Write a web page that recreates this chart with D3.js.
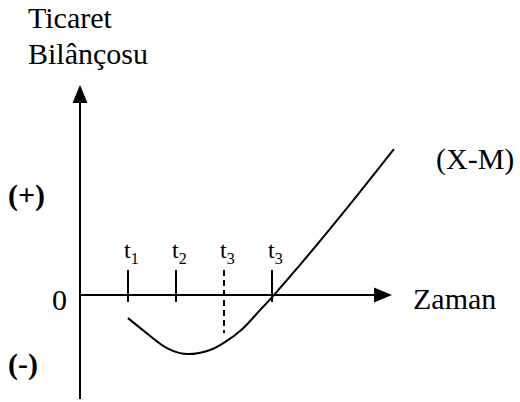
<!DOCTYPE html>
<html lang="tr">
<head>
<meta charset="UTF-8">
<title>Ticaret Bilançosu</title>
<script src="https://cdn.jsdelivr.net/npm/d3@7"></script>
<style>
    body { margin: 0; background: #fff; }
</style>
</head>
<body>
<div id="output"></div>
<script>

// time marks on the horizontal axis
var tickTimes = [1, 2, 3, 4];
var tickSubs = ["1", "2", "3", "3"];
var tickDashed = [false, false, true, false];

// (X-M) curve
var curveTimes = [1.0, 1.31, 1.81, 2.25, 2.71, 3.02, 3.40, 3.75, 4.04, 4.58, 5.83, 6.54];
var curveValues = [-0.96, -1.46, -2.21, -2.46, -2.29, -1.96, -1.38, -0.63, 0, 1.25, 4.29, 6.08];

var w = 520;
var h = 402;
var serif = "'Liberation Serif', 'Times New Roman', 'DejaVu Serif', serif";

var svg = d3.select("#output")
            .append("svg")
            .attr("width", w)
            .attr("height", h)
            .attr("font-family", serif)
            .style("background-color", "#ffffff");

var xScale = d3.scaleLinear()
        .domain([0, 6.5])
        .range([80, 392]);

var yScale = d3.scaleLinear()
        .domain([-4.33, 8.75])
        .range([399, 85]);

var x0 = xScale(0);
var y0 = yScale(0);
var arrowLen = 18;
var arrowHalf = 7.5;

// y axis + arrow
svg.append("line")
        .attr("x1", x0).attr("x2", x0)
        .attr("y1", yScale(-4.33)).attr("y2", yScale(8.75) + arrowLen - 1)
        .attr("stroke", "#000").attr("stroke-width", 2);

svg.append("path")
        .attr("d", "M" + x0 + "," + yScale(8.75) +
                   "L" + (x0 + arrowHalf) + "," + (yScale(8.75) + arrowLen) +
                   "L" + (x0 - arrowHalf) + "," + (yScale(8.75) + arrowLen) + "Z")
        .attr("fill", "#000");

// x axis + arrow
svg.append("line")
        .attr("x1", x0).attr("x2", xScale(6.5) - arrowLen + 1)
        .attr("y1", y0).attr("y2", y0)
        .attr("stroke", "#000").attr("stroke-width", 2);

svg.append("path")
        .attr("d", "M" + xScale(6.5) + "," + y0 +
                   "L" + (xScale(6.5) - arrowLen) + "," + (y0 - arrowHalf) +
                   "L" + (xScale(6.5) - arrowLen) + "," + (y0 + arrowHalf) + "Z")
        .attr("fill", "#000");

// time ticks
var ticks = svg.append("g");

ticks.selectAll("line")
        .data(tickTimes)
        .enter()
        .append("line")
            .attr("x1", function(d){ return xScale(d); })
            .attr("x2", function(d){ return xScale(d); })
            .attr("y1", y0 - 25)
            .attr("y2", function(d, i){ return tickDashed[i] ? y0 + 38 : y0 + 7; })
            .attr("stroke", "#000")
            .attr("stroke-width", 2)
            .attr("stroke-dasharray", function(d, i){ return tickDashed[i] ? "6,4" : null; });

var tickText = ticks.selectAll("text")
        .data(tickTimes)
        .enter()
        .append("text")
            .attr("x", function(d){ return xScale(d) - 4; })
            .attr("y", y0 - 37)
            .attr("font-size", 24);

tickText.append("tspan").text("t");
tickText.append("tspan")
        .attr("dy", 6)
        .attr("font-size", 16)
        .text(function(d, i){ return tickSubs[i]; });

// the curve
var line = d3.line()
        .x(function(d, i){ return xScale(curveTimes[i]); })
        .y(function(d){ return yScale(d); })
        .curve(d3.curveMonotoneX);

svg.append("path")
        .attr("d", line(curveValues))
        .attr("fill", "none")
        .attr("stroke", "#000")
        .attr("stroke-width", 2);

// labels
function label(x, y, txt, anchor, bold) {
    svg.append("text")
        .attr("x", x).attr("y", y)
        .attr("font-size", 30)
        .attr("text-anchor", anchor || "start")
        .attr("font-weight", bold ? "bold" : null)
        .text(txt);
}

label(28, 28, "Ticaret");
label(28, 64, "Bilânçosu");
label(413, 309, "Zaman");
label(436, 169, "(X-M)");
label(67, 310, "0", "end");
label(8, 205, "(+)", null, true);
label(8, 374, "(-)", null, true);

</script>
</body>
</html>
